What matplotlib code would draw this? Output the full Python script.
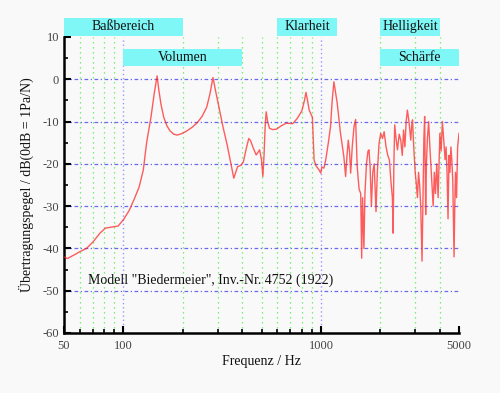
import matplotlib
matplotlib.use("Agg")
import matplotlib.pyplot as plt
import matplotlib.transforms as mtransforms
from matplotlib.patches import Rectangle
from matplotlib.ticker import FixedLocator, NullFormatter, MultipleLocator

plt.rcParams['font.family'] = ['Liberation Serif', 'DejaVu Serif']
plt.rcParams['axes.unicode_minus'] = False

# measured transfer function (Hz, dB)
freqs = [50, 52, 54, 57, 60, 65, 70, 76, 81, 86, 94, 100, 107, 113, 120, 126, 131, 138,
         143, 148, 151, 155, 160, 166, 172, 180, 187, 196, 208, 222, 236, 250, 264, 274,
         284, 292, 301, 320, 335, 345, 355, 362, 370, 378, 395, 405, 418, 431, 440, 452,
         470, 489, 500, 508, 515, 522, 528, 537, 549, 570, 595, 630, 667, 720, 760, 800,
         825, 840, 855, 872, 895, 905, 915, 923, 945, 960, 980, 998, 1010, 1035, 1057,
         1090, 1118, 1140, 1163, 1185, 1209, 1256, 1306, 1333, 1355, 1375, 1395, 1414,
         1440, 1470, 1498, 1526, 1560, 1589, 1608, 1625, 1650, 1670, 1700, 1730, 1751,
         1775, 1800, 1830, 1860, 1900, 1930, 1969, 2007, 2050, 2089, 2135, 2180, 2222,
         2260, 2300, 2320, 2340, 2363, 2400, 2440, 2490, 2536, 2580, 2620, 2660, 2700,
         2740, 2790, 2850, 2880, 2909, 2950, 3000, 3030, 3080, 3120, 3160, 3200, 3250,
         3290, 3320, 3350, 3390, 3420, 3460, 3510, 3560, 3600, 3650, 3700, 3750, 3800,
         3860, 3920, 4000, 4060, 4120, 4180, 4250, 4300, 4350, 4400, 4450, 4500, 4550,
         4600, 4650, 4720, 4760, 4800, 4860, 4920, 5000]
levels = [-42.0, -42.4, -42.0, -41.4, -40.8, -40.0, -38.5, -36.4, -35.2, -35.0, -34.7,
          -33.2, -31.0, -28.5, -25.5, -21.5, -15.0, -8.8, -3.5, 0.8, -2.5, -6.0, -9.0,
          -11.0, -12.2, -13.0, -13.2, -12.9, -12.3, -11.4, -10.3, -8.8, -6.6, -3.5, 0.4,
          -2.5, -5.5, -11.5, -15.5, -18.5, -21.5, -23.4, -22.0, -20.7, -20.3, -19.5,
          -16.5, -14.0, -14.5, -16.0, -17.9, -16.7, -19.0, -23.0, -18.0, -11.0, -7.7,
          -10.0, -11.6, -11.9, -11.8, -11.0, -10.4, -10.5, -9.2, -7.5, -5.0, -3.1, -5.0,
          -7.3, -8.5, -9.0, -14.5, -19.1, -20.5, -20.9, -21.5, -22.2, -20.8, -21.0, -19.1,
          -15.0, -11.2, -5.0, -0.6, -3.0, -5.7, -12.8, -18.3, -23.0, -18.0, -14.4, -17.0,
          -22.2, -16.0, -11.2, -9.5, -20.7, -26.0, -27.0, -42.3, -28.0, -40.0, -27.0,
          -20.0, -17.0, -16.7, -21.0, -30.0, -22.0, -20.0, -31.3, -22.0, -15.1, -12.8,
          -14.0, -12.4, -15.9, -18.0, -19.1, -24.0, -28.0, -36.4, -20.0, -10.8, -14.0,
          -16.7, -13.0, -14.4, -18.0, -12.0, -16.0, -10.0, -7.3, -10.0, -14.4, -11.0,
          -9.6, -16.0, -22.0, -24.0, -28.0, -22.0, -25.0, -30.0, -43.0, -26.0, -14.0,
          -8.8, -32.0, -20.0, -14.0, -10.0, -16.0, -20.0, -25.0, -30.0, -22.0, -27.0,
          -20.0, -28.0, -12.8, -17.0, -10.0, -14.0, -19.0, -16.0, -22.0, -33.0, -18.0,
          -22.0, -16.0, -19.1, -24.0, -42.0, -30.0, -22.0, -28.0, -16.0, -12.8]

# frequency bands shown above the plot
band_names = ["Baßbereich", "Volumen", "Klarheit", "Helligkeit", "Schärfe"]
band_lo = [50, 100, 600, 2000, 2000]
band_hi = [200, 400, 1200, 4000, 5000]
band_row = [0, 1, 0, 0, 1]

bg = '#f9f9f9'
fig = plt.figure(figsize=(5.0, 3.93), dpi=100, facecolor=bg)
ax = fig.add_axes([0.128, 0.1527, 0.79, 0.7532], facecolor=bg)

ax.set_xscale('log')
ax.set_xlim(50, 5000)
ax.set_ylim(-60, 10)

# grid
green_x = [60, 70, 80, 90, 200, 300, 400, 500, 600, 700, 800, 900, 2000, 3000, 4000]
for gx in green_x:
    ax.axvline(gx, color='#55ee55', lw=0.9, ls=(0, (1, 3)), zorder=1)
for gx in [100, 1000]:
    ax.axvline(gx, color='#9999ff', lw=1.0, ls=(0, (1, 2)), zorder=1)
for gy in range(-50, 10, 10):
    ax.axhline(gy, color='#6a6aee', lw=0.9, ls=(0, (3, 2, 1, 2)), zorder=1)

ax.plot(freqs, levels, color='#ff1a1a', alpha=0.7, lw=1.0, zorder=3)

# band boxes
trans = mtransforms.blended_transform_factory(ax.transData, ax.transAxes)
row_y = [(1.004, 1.064), (0.902, 0.959)]
for name, lo, hi, r in zip(band_names, band_lo, band_hi, band_row):
    y0, y1 = row_y[r]
    ax.add_patch(Rectangle((lo, y0), hi - lo, y1 - y0, transform=trans,
                           facecolor='#7ff7f7', edgecolor='none', clip_on=False, zorder=4))
    xc = (lo * hi) ** 0.5
    ax.text(xc, (y0 + y1) / 2, name, transform=trans, ha='center', va='center',
            fontsize=10, color='#111111', zorder=5)

ax.text(66, -47.6, 'Modell "Biedermeier", Inv.-Nr. 4752 (1922)', ha='left', va='center',
        fontsize=10, color='#111111', zorder=5)

# axes styling
for s in ['top', 'right']:
    ax.spines[s].set_visible(False)
for s in ['left', 'bottom']:
    ax.spines[s].set_linewidth(1.8)

ax.xaxis.set_major_locator(FixedLocator([50, 100, 1000, 5000]))
ax.xaxis.set_minor_locator(FixedLocator(green_x))
ax.xaxis.set_minor_formatter(NullFormatter())
ax.set_xticklabels(['50', '100', '1000', '5000'])
ax.yaxis.set_major_locator(MultipleLocator(10))
ax.yaxis.set_minor_locator(MultipleLocator(5))

ax.tick_params(which='both', direction='in', colors='black', labelcolor='#444444',
               labelsize=9)
ax.tick_params(which='major', length=5, width=1.5)
ax.tick_params(which='minor', length=3, width=1.2)
ax.tick_params(axis='x', pad=5)

ax.set_xlabel('Frequenz / Hz', fontsize=10, color='#111111', labelpad=2)
ax.set_ylabel('Übertragungspegel / dB(0dB = 1Pa/N)', fontsize=10, color='#111111',
              labelpad=6)

fig.savefig('out.png', dpi=100, facecolor=bg)
